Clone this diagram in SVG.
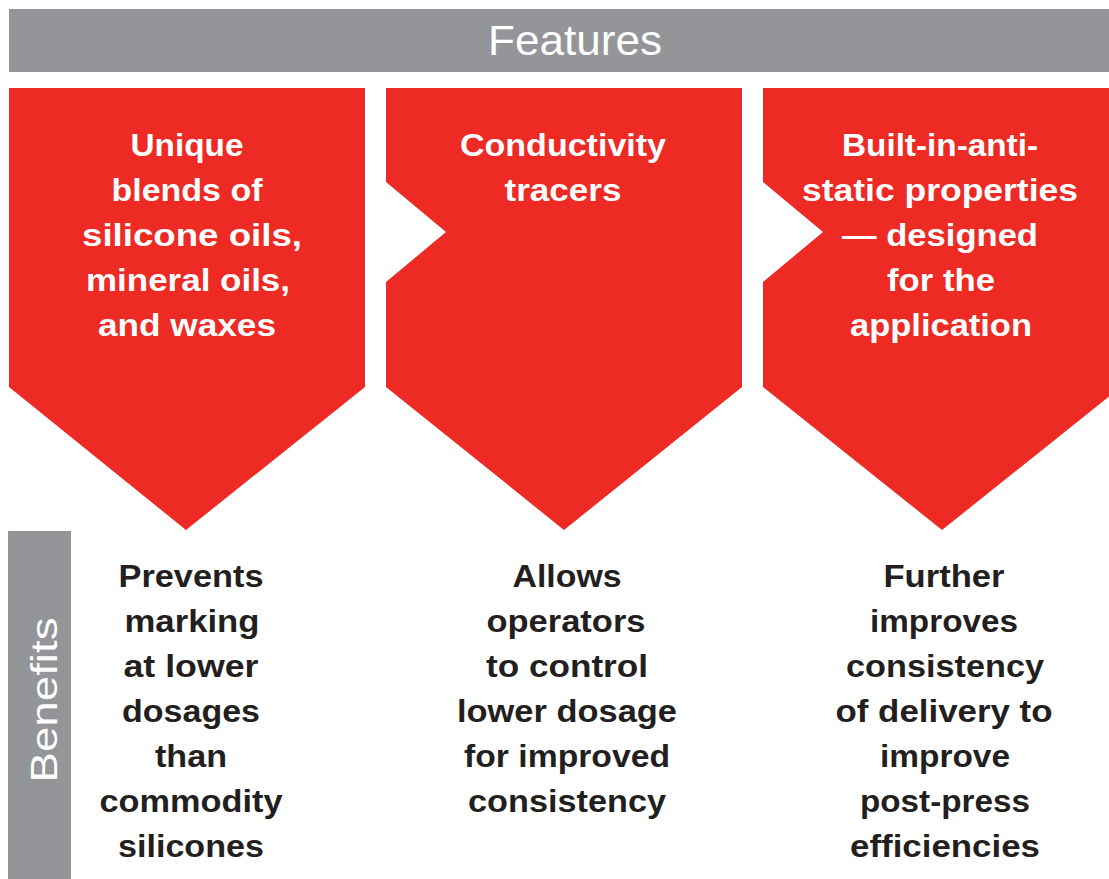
<svg xmlns="http://www.w3.org/2000/svg" width="1109" height="879" viewBox="0 0 1109 879">
<style>
.bar{fill:#939598}
.arrow{fill:#EE2A24}
.ft{font-family:"Liberation Sans",Arial,sans-serif;font-weight:bold;font-size:31px;fill:#FFFFFF;text-anchor:middle}
.bt{font-family:"Liberation Sans",Arial,sans-serif;font-weight:bold;font-size:31px;fill:#231F20;text-anchor:middle}
.hd{font-family:"Liberation Sans",Arial,sans-serif;font-size:42px;fill:#FFFFFF;text-anchor:middle}
</style>
<rect width="1109" height="879" fill="#FFFFFF"/>
<g id="features-header">
<rect class="bar" x="9" y="9" width="1100" height="63"/>
<text class="hd" x="575" y="55" textLength="174" lengthAdjust="spacingAndGlyphs">Features</text>
</g>
<g id="benefits-header">
<rect class="bar" x="8" y="531" width="63" height="348"/>
<text class="hd" transform="translate(57,700) rotate(-90)" x="0" y="0" font-size="36" textLength="165" lengthAdjust="spacingAndGlyphs" style="font-size:36px">Benefits</text>
</g>
<g id="connectors"></g>
<g id="feature1">
<path class="arrow" d="M9,88 H365 V387 L186,530 L9,387 Z"/>
<text class="ft" x="187" y="156" textLength="113" lengthAdjust="spacingAndGlyphs">Unique</text>
<text class="ft" x="187" y="201" textLength="151" lengthAdjust="spacingAndGlyphs">blends of</text>
<text class="ft" x="192" y="246" textLength="220" lengthAdjust="spacingAndGlyphs">silicone oils,</text>
<text class="ft" x="188" y="291" textLength="204" lengthAdjust="spacingAndGlyphs">mineral oils,</text>
<text class="ft" x="187" y="336" textLength="178" lengthAdjust="spacingAndGlyphs">and waxes</text>
</g>
<g id="feature2">
<path class="arrow" d="M386,88 H742 V387 L564,530 L386,387 V282 L446,232 L386,182 Z"/>
<text class="ft" x="563" y="156" textLength="206" lengthAdjust="spacingAndGlyphs">Conductivity</text>
<text class="ft" x="563" y="201" textLength="117" lengthAdjust="spacingAndGlyphs">tracers</text>
</g>
<g id="feature3">
<path class="arrow" d="M763,88 H1121 V387 L942,530 L763,387 V282 L823,232 L763,182 Z"/>
<text class="ft" x="940" y="156" textLength="196" lengthAdjust="spacingAndGlyphs">Built-in-anti-</text>
<text class="ft" x="940" y="201" textLength="276" lengthAdjust="spacingAndGlyphs">static properties</text>
<text class="ft" x="940" y="246" textLength="196" lengthAdjust="spacingAndGlyphs">— designed</text>
<text class="ft" x="941" y="291" textLength="108" lengthAdjust="spacingAndGlyphs">for the</text>
<text class="ft" x="941" y="336" textLength="182" lengthAdjust="spacingAndGlyphs">application</text>
</g>
<g id="benefit1">
<text class="bt" x="191" y="587" textLength="145" lengthAdjust="spacingAndGlyphs">Prevents</text>
<text class="bt" x="192" y="632" textLength="135" lengthAdjust="spacingAndGlyphs">marking</text>
<text class="bt" x="191" y="677" textLength="135" lengthAdjust="spacingAndGlyphs">at lower</text>
<text class="bt" x="191" y="722" textLength="138" lengthAdjust="spacingAndGlyphs">dosages</text>
<text class="bt" x="191" y="767" textLength="72" lengthAdjust="spacingAndGlyphs">than</text>
<text class="bt" x="191" y="812" textLength="183" lengthAdjust="spacingAndGlyphs">commodity</text>
<text class="bt" x="191" y="857" textLength="146" lengthAdjust="spacingAndGlyphs">silicones</text>
</g>
<g id="benefit2">
<text class="bt" x="567" y="587" textLength="109" lengthAdjust="spacingAndGlyphs">Allows</text>
<text class="bt" x="566" y="632" textLength="159" lengthAdjust="spacingAndGlyphs">operators</text>
<text class="bt" x="567" y="677" textLength="162" lengthAdjust="spacingAndGlyphs">to control</text>
<text class="bt" x="567" y="722" textLength="220" lengthAdjust="spacingAndGlyphs">lower dosage</text>
<text class="bt" x="567" y="767" textLength="206" lengthAdjust="spacingAndGlyphs">for improved</text>
<text class="bt" x="567" y="812" textLength="198" lengthAdjust="spacingAndGlyphs">consistency</text>
</g>
<g id="benefit3">
<text class="bt" x="944" y="587" textLength="121" lengthAdjust="spacingAndGlyphs">Further</text>
<text class="bt" x="944" y="632" textLength="148" lengthAdjust="spacingAndGlyphs">improves</text>
<text class="bt" x="945" y="677" textLength="198" lengthAdjust="spacingAndGlyphs">consistency</text>
<text class="bt" x="944" y="722" textLength="217" lengthAdjust="spacingAndGlyphs">of delivery to</text>
<text class="bt" x="945" y="767" textLength="130" lengthAdjust="spacingAndGlyphs">improve</text>
<text class="bt" x="945" y="812" textLength="170" lengthAdjust="spacingAndGlyphs">post-press</text>
<text class="bt" x="945" y="857" textLength="190" lengthAdjust="spacingAndGlyphs">efficiencies</text>
</g>
</svg>
